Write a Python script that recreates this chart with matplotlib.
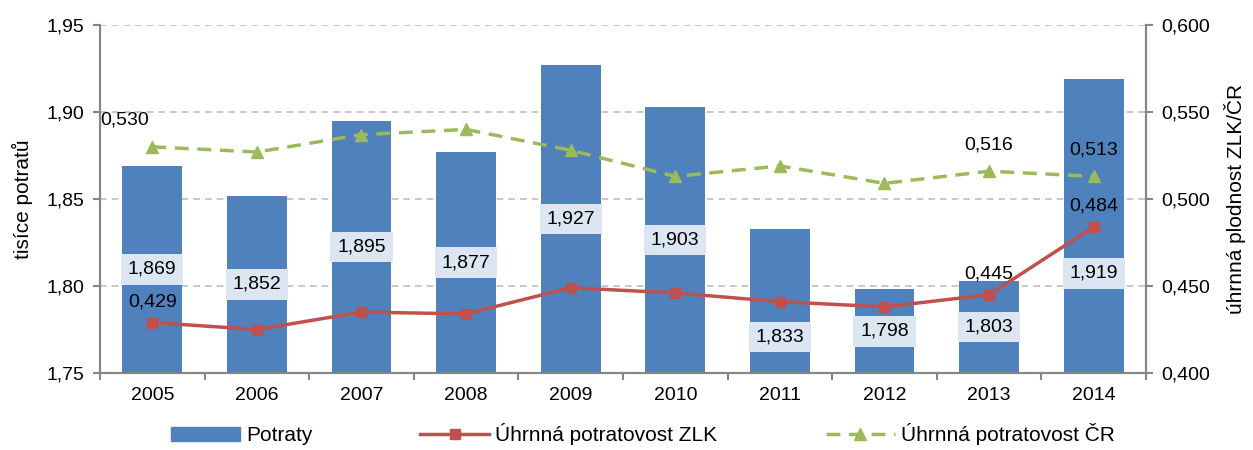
import matplotlib
matplotlib.use("Agg")
import matplotlib.pyplot as plt
from matplotlib.ticker import FuncFormatter, MultipleLocator
from matplotlib.lines import Line2D
from matplotlib.patches import Patch

plt.rcParams['font.family'] = ['Liberation Sans', 'DejaVu Sans']

years = ['2005', '2006', '2007', '2008', '2009', '2010', '2011', '2012', '2013', '2014']
potraty = [1.869, 1.852, 1.895, 1.877, 1.927, 1.903, 1.833, 1.798, 1.803, 1.919]
zlk = [0.429, 0.425, 0.435, 0.434, 0.449, 0.446, 0.441, 0.438, 0.445, 0.484]
cr = [0.530, 0.527, 0.537, 0.540, 0.528, 0.513, 0.519, 0.509, 0.516, 0.513]
labeled_idx = [0, 8, 9]

BLUE = '#4F81BD'
RED = '#C0504D'
GREEN = '#9BBB59'
AXC = '#868686'
FS = 14

# manual label shifts (points) for bar labels that were moved in the original
bar_label_shift = {6: -26, 9: -34}

def comma(v, nd):
    return f"{v:.{nd}f}".replace('.', ',')

fig = plt.figure(figsize=(12.53, 4.5), dpi=100)
ax = fig.add_axes([0.0798, 0.1711, 0.8348, 0.7733])
ax2 = ax.twinx()

x = list(range(len(years)))
ymin = 1.75
bars = ax.bar(x, potraty, width=0.57, color=BLUE, zorder=2)
ax.set_ylim(ymin, 1.95)
ax.set_xlim(-0.5, len(years) - 0.5)
ax.yaxis.set_major_locator(MultipleLocator(0.05))
ax.yaxis.set_major_formatter(FuncFormatter(lambda v, p: comma(v, 2)))
ax.grid(axis='y', color='#BFBFBF', linestyle=(0, (4, 3)), linewidth=1.2, zorder=0)
ax.set_axisbelow(True)
ax.set_xticks(x)
ax.set_xticklabels(years)
ax.set_xticks([i - 0.5 for i in range(len(years) + 1)], minor=True)
ax.tick_params(axis='x', which='major', length=0, pad=10, labelsize=FS)
ax.tick_params(axis='x', which='minor', length=5, color=AXC, width=1.5)
ax.tick_params(axis='y', length=5, color=AXC, width=1.5, labelsize=FS, pad=6)
ax.set_ylabel('tisíce potratů', fontsize=15, labelpad=10)

for i, v in enumerate(potraty):
    ax.annotate(comma(v, 3), (x[i], (ymin + v) / 2), xytext=(0, bar_label_shift.get(i, 0)),
                textcoords='offset points', ha='center', va='center', fontsize=FS, zorder=3,
                bbox=dict(boxstyle='square,pad=0.35', fc='#DCE6F2', ec='none'))

ax2.plot(x, zlk, color=RED, linewidth=2.5, marker='s', markersize=7.5, zorder=3)
ax2.plot(x, cr, color=GREEN, linewidth=2.5, linestyle=(0, (4, 2.5)), marker='^',
         markersize=8, zorder=3)
ax2.set_ylim(0.4, 0.6)
ax2.yaxis.set_major_locator(MultipleLocator(0.05))
ax2.yaxis.set_major_formatter(FuncFormatter(lambda v, p: comma(v, 3)))
ax2.tick_params(axis='y', length=5, color=AXC, width=1.5, labelsize=FS, pad=6)
ax2.set_ylabel('úhrnná plodnost ZLK/ČR', fontsize=15, labelpad=10)

for i in labeled_idx:
    ax2.annotate(comma(zlk[i], 3), (x[i], zlk[i]), xytext=(0, 9), textcoords='offset points',
                 ha='center', va='bottom', fontsize=FS)
    dx = -20 if i == 0 else 0
    ax2.annotate(comma(cr[i], 3), (x[i], cr[i]), xytext=(dx, 13), textcoords='offset points',
                 ha='center', va='bottom', fontsize=FS)

for a in (ax, ax2):
    a.spines['top'].set_visible(False)
    for s in ('left', 'right', 'bottom'):
        a.spines[s].set_color(AXC)
        a.spines[s].set_linewidth(1.5)

handles = [
    Patch(color=BLUE),
    Line2D([0], [0], color=RED, linewidth=2.5, marker='s', markersize=7.5),
    Line2D([0], [0], color=GREEN, linewidth=2.5, linestyle=(0, (4, 2.5)), marker='^', markersize=8),
]
names = ['Potraty', 'Úhrnná potratovost ZLK', 'Úhrnná potratovost ČR']
fig.legend(handles, names, loc='center', bbox_to_anchor=(0.513, 0.035), ncol=3, frameon=False,
           fontsize=15, handlelength=3.3, columnspacing=5.2, handletextpad=0.3)

fig.savefig('out.png', dpi=100)
